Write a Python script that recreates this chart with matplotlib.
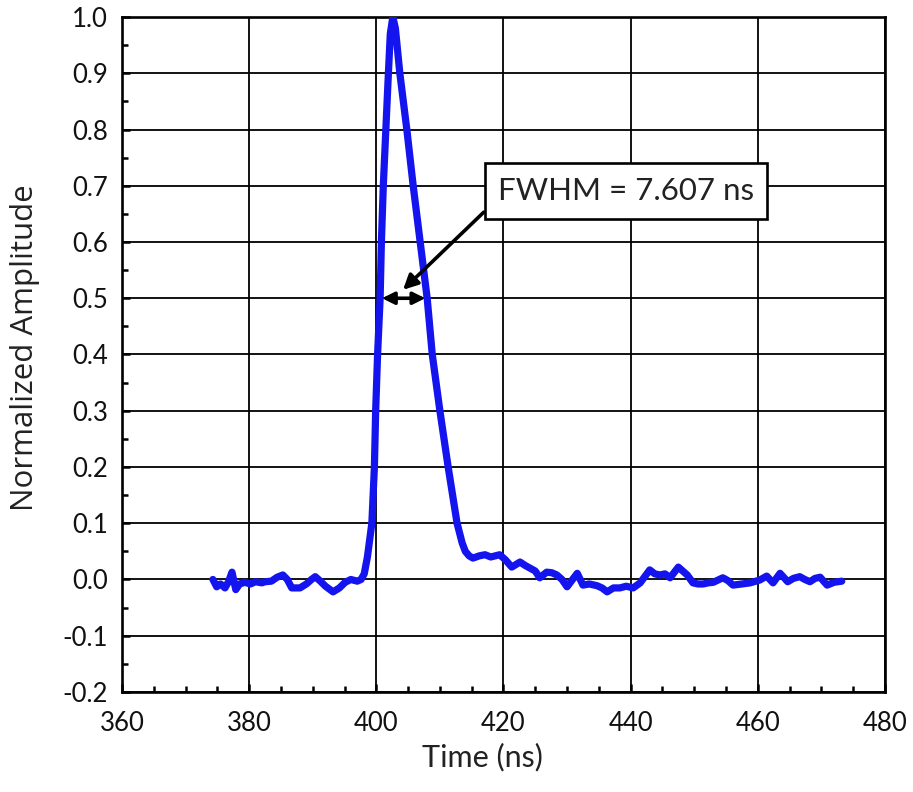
import matplotlib
matplotlib.use("Agg")
import matplotlib.pyplot as plt
from matplotlib.ticker import MultipleLocator, FormatStrFormatter
from matplotlib.patches import Rectangle

plt.rcParams['axes.unicode_minus'] = False
plt.rcParams['font.family'] = ['Lato', 'DejaVu Sans']

time_ns = [374.3, 374.9, 375.5, 376.2, 376.8, 377.3, 377.9, 378.5, 379.3, 380.2,
           381.0, 382.0, 382.5, 383.5, 384.4, 385.3, 386.0, 386.7, 388.0, 389.0,
           389.8, 390.4, 391.2, 392.0, 393.2, 394.2, 395.1, 396.0, 397.0, 397.6,
           398.1, 398.6, 399.3, 399.7, 399.9, 400.2, 400.6, 400.8, 401.1, 401.5,
           401.9, 402.2, 402.6, 403.0, 403.7, 404.8, 405.8, 406.9, 408.0, 408.8,
           410.0, 411.3, 412.7, 413.5, 414.0, 414.6, 415.2, 416.2, 417.1, 418.0,
           419.4, 420.3, 421.3, 422.6, 423.4, 424.2, 425.0, 425.7, 426.8, 427.6,
           428.4, 429.2, 430.0, 431.6, 432.5, 433.5, 434.7, 435.5, 436.3, 437.3,
           438.3, 439.3, 440.4, 441.5, 443.0, 443.8, 444.6, 445.4, 446.2, 447.5,
           448.9, 449.8, 450.6, 451.4, 452.2, 453.0, 454.5, 455.3, 456.1, 457.5,
           458.8, 460.3, 461.4, 462.4, 463.5, 464.7, 465.6, 466.6, 467.4, 468.2,
           469.0, 469.8, 470.9, 472.0, 473.2]
amplitude = [0.0, -0.013, -0.008, -0.015, -0.003, 0.013, -0.018, -0.008, -0.005, -0.008,
             -0.004, -0.006, -0.004, -0.003, 0.004, 0.008, 0.0, -0.015, -0.015, -0.008,
             0.0, 0.005, -0.003, -0.012, -0.022, -0.015, -0.005, 0.0, -0.003, 0.0,
             0.01, 0.04, 0.1, 0.2, 0.3, 0.4, 0.5, 0.6, 0.7, 0.8,
             0.9, 0.97, 1.0, 0.98, 0.9, 0.8, 0.7, 0.6, 0.5, 0.4,
             0.3, 0.2, 0.1, 0.065, 0.05, 0.042, 0.038, 0.042, 0.044, 0.04,
             0.044, 0.035, 0.022, 0.031, 0.025, 0.02, 0.015, 0.003, 0.013, 0.012,
             0.008, 0.0, -0.013, 0.011, -0.01, -0.008, -0.011, -0.015, -0.022, -0.015,
             -0.015, -0.012, -0.015, -0.006, 0.017, 0.01, 0.008, 0.01, 0.003, 0.022,
             0.008, -0.006, -0.008, -0.008, -0.006, -0.005, 0.003, -0.002, -0.01, -0.008,
             -0.006, -0.001, 0.006, -0.006, 0.011, -0.004, 0.002, 0.005, 0.0, -0.004,
             0.002, 0.004, -0.01, -0.005, -0.003]

annotation_text = "FWHM = 7.607 ns"
fwhm_left, fwhm_right, half_max = 400.9, 407.7, 0.5

fig = plt.figure(figsize=(9.13, 7.92), dpi=100)
ax = fig.add_axes([0.1336, 0.1263, 0.8357, 0.8522])

ax.plot(time_ns, amplitude, color='#1414EE', lw=5.2, solid_joinstyle='round',
        solid_capstyle='round', zorder=3)

ax.set_xlim(360, 480)
ax.set_ylim(-0.2, 1.0)
ax.xaxis.set_major_locator(MultipleLocator(20))
ax.xaxis.set_minor_locator(MultipleLocator(5))
ax.yaxis.set_major_locator(MultipleLocator(0.1))
ax.yaxis.set_minor_locator(MultipleLocator(0.05))
ax.yaxis.set_major_formatter(FormatStrFormatter('%.1f'))

ax.grid(True, which='major', color='black', lw=1.3, zorder=1)
for s in ax.spines.values():
    s.set_linewidth(1.9)
    s.set_color('black')
ax.tick_params(which='both', direction='in', top=False, right=False, color='black', width=1.8)
ax.tick_params(which='major', length=6, labelsize=18.5, pad=10, labelcolor='#111111')
ax.tick_params(which='minor', length=4.5)
ax.tick_params(axis='x', which='major', pad=14)

ax.set_xlabel('Time (ns)', fontsize=22, color='#222222')
ax.xaxis.set_label_coords(0.473, -0.075)
ax.set_ylabel('Normalized Amplitude', fontsize=22.5, color='#222222',
              family=['Open Sans', 'DejaVu Sans'])
ax.yaxis.set_label_coords(-0.108, 0.51)

# annotation box
ax.add_patch(Rectangle((417.1, 0.6409), 44.3, 0.0995, facecolor='white',
                       edgecolor='black', lw=1.9, zorder=5))
ax.text(439.3, 0.6907, annotation_text, ha='center', va='center', fontsize=22.5,
        color='#222222', zorder=6)
ax.annotate('', xy=(404.2, 0.515), xytext=(416.9, 0.653),
            arrowprops=dict(arrowstyle='-|>', lw=2.6, color='black', mutation_scale=22,
                            shrinkA=0, shrinkB=0), zorder=6)
ax.annotate('', xy=(fwhm_left, half_max), xytext=(fwhm_right, half_max),
            arrowprops=dict(arrowstyle='<|-|>', lw=2.6, color='black', mutation_scale=18,
                            shrinkA=0, shrinkB=0), zorder=6)

fig.savefig('out.png', dpi=100)
